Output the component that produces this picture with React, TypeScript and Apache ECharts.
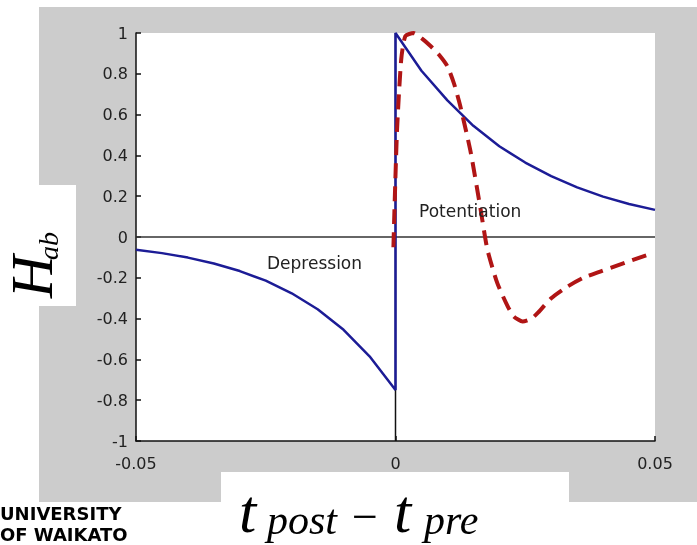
import React, { useEffect, useRef } from 'react';
import * as echarts from 'echarts';

// ---- data ----
const xTickValues = [-0.05, 0, 0.05];
const xTickLabels = ['-0.05', '0', '0.05'];
const yTickValues = [1, 0.8, 0.6, 0.4, 0.2, 0, -0.2, -0.4, -0.6, -0.8, -1];
const yTickLabels = ['1', '0.8', '0.6', '0.4', '0.2', '0', '-0.2', '-0.4', '-0.6', '-0.8', '-1'];

// Depression branch (t < 0), blue solid
const depressionT = [-0.05, -0.045, -0.04, -0.035, -0.03, -0.025, -0.02, -0.015, -0.01, -0.005, 0];
const depressionH = [-0.062, -0.079, -0.101, -0.13, -0.167, -0.214, -0.276, -0.354, -0.455, -0.585, -0.75];

// Potentiation branch (t > 0), blue solid
const potentiationT = [0, 0.005, 0.01, 0.015, 0.02, 0.025, 0.03, 0.035, 0.04, 0.045, 0.05];
const potentiationH = [1.0, 0.815, 0.67, 0.545, 0.445, 0.365, 0.298, 0.243, 0.198, 0.162, 0.133];

// Measured window, red dashed
const measuredT = [-0.0004, -0.0002, 0.0003, 0.0011, 0.0019, 0.0035, 0.005, 0.0068, 0.0085, 0.01, 0.0113, 0.0125, 0.0145, 0.0164, 0.0177, 0.0196, 0.0216, 0.0228, 0.0245, 0.0262, 0.0275, 0.03, 0.033, 0.0362, 0.0397, 0.0432, 0.0483];
const measuredH = [-0.05, 0.135, 0.527, 0.87, 0.985, 1.0, 0.975, 0.935, 0.89, 0.837, 0.75, 0.64, 0.414, 0.135, -0.061, -0.225, -0.339, -0.39, -0.414, -0.4, -0.37, -0.3, -0.245, -0.2, -0.167, -0.135, -0.09];

const zeroLineX = [-0.05, 0.05];
const zeroLineY = [-1, 1];

const annotations = ['Depression', 'Potentiation'];

const zip = (a: number[], b: number[]) => a.map((v, i) => [v, b[i]]);

function labelFor(v: number, values: number[], labels: string[]) {
  let best = 0;
  let d = Infinity;
  values.forEach((t, i) => {
    const dd = Math.abs(t - v);
    if (dd < d) { d = dd; best = i; }
  });
  return d < 1e-6 ? labels[best] : '';
}

const tickFont = { fontFamily: 'DejaVu Sans', fontSize: 16, color: '#222' };

export default function App() {
  const ref = useRef<HTMLDivElement>(null);

  useEffect(() => {
    if (!ref.current) return;
    const chart = echarts.init(ref.current, undefined, { renderer: 'svg' });

    const blueData = [...zip(depressionT, depressionH), ...zip(potentiationT, potentiationH)];

    const serif = 'Liberation Serif';
    const txt = (text: string, x: number, y: number, size: number, italic = true, lineHeight?: number) => ({
      type: 'text',
      x,
      y,
      z: 100,
      style: {
        text,
        fill: '#000',
        font: `${italic ? 'italic ' : ''}${size}px "${serif}"`,
        lineHeight: lineHeight ?? size,
        align: 'left',
        verticalAlign: 'middle',
        textAlign: 'left',
        textVerticalAlign: 'middle',
      },
    });

    chart.setOption({
      animation: false,
      grid: { left: 136, top: 33, width: 519, height: 408, show: false },
      graphic: [
        { type: 'rect', z: -100, shape: { x: 39, y: 7, width: 658, height: 495 }, style: { fill: '#cccccc' } },
        { type: 'rect', z: -99, shape: { x: 136, y: 33, width: 519, height: 408 }, style: { fill: '#ffffff' } },
        { type: 'rect', z: -99, shape: { x: 39, y: 185, width: 37, height: 121 }, style: { fill: '#ffffff' } },
        { type: 'rect', z: -99, shape: { x: 221, y: 472, width: 348, height: 30 }, style: { fill: '#ffffff' } },
        {
          type: 'text', x: 267, y: 263, z: 100,
          style: { text: annotations[0], fill: '#222', font: '17px "DejaVu Sans"', align: 'left', verticalAlign: 'middle', textAlign: 'left', textVerticalAlign: 'middle' },
        },
        {
          type: 'text', x: 419, y: 211, z: 100,
          style: { text: annotations[1], fill: '#222', font: '17px "DejaVu Sans"', align: 'left', verticalAlign: 'middle', textAlign: 'left', textVerticalAlign: 'middle' },
        },
        // y label H_ab rotated
        {
          type: 'group', x: 52, y: 298, rotation: Math.PI / 2, z: 100,
          children: [
            txt('H', 0, -20, 59),
            txt('ab', 38, -4, 28),
          ],
        },
        // x label t_post - t_pre
        txt('t', 239, 511, 62, true, 58),
        txt('post', 267, 520, 42, true, 36),
        txt('\u2212', 352, 516, 46, false, 36),
        txt('t', 394, 511, 62, true, 58),
        txt('pre', 424, 520, 42, true, 36),
        // logo
        {
          type: 'text', x: 0, y: 503, z: 100,
          style: { text: 'UNIVERSITY', fill: '#000', font: 'bold 18px "DejaVu Sans"', lineHeight: 20, align: 'left', verticalAlign: 'top', textAlign: 'left', textVerticalAlign: 'top' },
        },
        {
          type: 'text', x: 0, y: 524, z: 100,
          style: { text: 'OF WAIKATO', fill: '#000', font: 'bold 18px "DejaVu Sans"', lineHeight: 20, align: 'left', verticalAlign: 'top', textAlign: 'left', textVerticalAlign: 'top' },
        },
      ],
      xAxis: {
        type: 'value',
        min: -0.05,
        max: 0.05,
        interval: 0.05,
        axisLine: { show: true, onZero: false, lineStyle: { color: '#111', width: 1.5 } },
        axisTick: { show: true, inside: true, length: 5, lineStyle: { color: '#111', width: 1.5 } },
        axisLabel: { ...tickFont, margin: 14, formatter: (v: number) => labelFor(v, xTickValues, xTickLabels) },
        splitLine: { show: false },
      },
      yAxis: {
        type: 'value',
        min: -1,
        max: 1,
        interval: 0.2,
        axisLine: { show: true, onZero: false, lineStyle: { color: '#111', width: 1.5 } },
        axisTick: { show: true, inside: true, length: 5, lineStyle: { color: '#111', width: 1.5 } },
        axisLabel: { ...tickFont, margin: 8, formatter: (v: number) => labelFor(v, yTickValues, yTickLabels) },
        splitLine: { show: false },
      },
      series: [
        {
          type: 'line', symbol: 'none', silent: true,
          data: zeroLineX.map((x) => [x, 0]),
          lineStyle: { color: '#333', width: 1.5 },
          z: 1,
        },
        {
          type: 'line', symbol: 'none', silent: true,
          data: zeroLineY.map((y) => [0, y]),
          lineStyle: { color: '#111', width: 1.5 },
          z: 1,
        },
        {
          type: 'line', symbol: 'none', silent: true,
          data: blueData,
          lineStyle: { color: '#1c1c96', width: 2.5 },
          z: 2,
        },
        {
          type: 'line', symbol: 'none', silent: true,
          data: zip(measuredT, measuredH),
          smooth: 0.2,
          lineStyle: { color: '#b01515', width: 4, type: [15, 8] },
          z: 3,
        },
      ],
    });

    return () => chart.dispose();
  }, []);

  return <div ref={ref} style={{ position: 'fixed', left: 0, top: 0, width: 697, height: 545 }} />;
}
